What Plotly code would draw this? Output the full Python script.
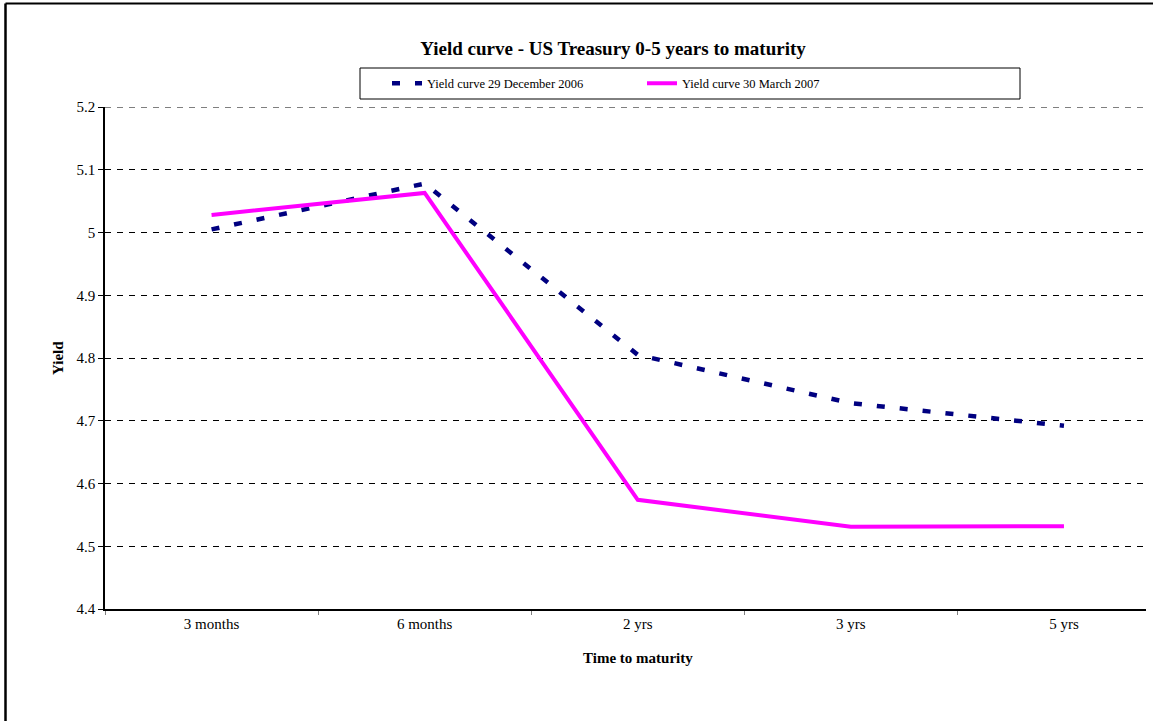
import plotly.graph_objects as go

maturities = ["3 months", "6 months", "2 yrs", "3 yrs", "5 yrs"]
yield_dec_2006 = [5.005, 5.078, 4.805, 4.728, 4.692]
yield_mar_2007 = [5.028, 5.063, 4.574, 4.531, 4.532]
y_tick_vals = [4.4, 4.5, 4.6, 4.7, 4.8, 4.9, 5.0, 5.1, 5.2]
y_tick_text = ["4.4", "4.5", "4.6", "4.7", "4.8", "4.9", "5", "5.1", "5.2"]

FONT = "Liberation Serif"
W, H = 1153, 721
L, R, T, B = 105, 7, 107, 112
PW = W - L - R
PH = H - T - B

def px_x(p):
    return (p - L) / PW

def px_y(p):
    return (H - B - p) / PH

fig = go.Figure()
fig.add_trace(go.Scatter(
    x=maturities, y=yield_dec_2006, mode="lines",
    name="Yield curve 29 December 2006",
    line=dict(color="#000080", width=4.5, dash="8px,15px"),
))
fig.add_trace(go.Scatter(
    x=maturities, y=yield_mar_2007, mode="lines",
    name="Yield curve 30 March 2007",
    line=dict(color="#FF00FF", width=4),
))

fig.update_layout(
    width=W, height=H,
    margin=dict(l=L, r=R, t=T, b=B, pad=0),
    paper_bgcolor="white", plot_bgcolor="white",
    font=dict(family=FONT, size=13, color="black"),
    title=dict(text="<b>Yield curve - US Treasury 0-5 years to maturity</b>",
               xref="container", yref="container",
               x=613 / W, y=1 - 48 / H, xanchor="center", yanchor="middle",
               font=dict(family=FONT, size=19, color="black")),
    showlegend=True,
    legend=dict(orientation="h", x=px_x(387), y=px_y(83.5),
                xanchor="left", yanchor="middle",
                bgcolor="rgba(0,0,0,0)", borderwidth=0,
                entrywidth=210, entrywidthmode="pixels",
                font=dict(family=FONT, size=12.5, color="black")),
    xaxis=dict(type="category", range=[-0.5, 4.385],
               showline=True, linecolor="black", linewidth=1.5,
               showgrid=False, zeroline=False,
               ticks="outside", tickson="boundaries", ticklen=4,
               tickcolor="#808080", tickwidth=1,
               tickfont=dict(family=FONT, size=15, color="black")),
    yaxis=dict(range=[4.4, 5.2], tickvals=y_tick_vals, ticktext=y_tick_text,
               showline=True, linecolor="black", linewidth=1.5,
               showgrid=True, gridcolor="black", gridwidth=1, griddash="6px,6px",
               zeroline=False, ticks="outside", ticklen=5,
               tickcolor="black", tickwidth=1,
               tickfont=dict(family=FONT, size=15, color="black")),
    shapes=[
        # outer chart border (left and top visible)
        dict(type="line", xref="paper", yref="paper",
             x0=px_x(5.5), x1=px_x(5.5), y0=px_y(H + 5), y1=px_y(3.5),
             line=dict(color="black", width=2.5)),
        dict(type="line", xref="paper", yref="paper",
             x0=px_x(5.5), x1=px_x(W + 5), y0=px_y(3.5), y1=px_y(3.5),
             line=dict(color="black", width=2)),
        # legend box
        dict(type="rect", xref="paper", yref="paper",
             x0=px_x(360), x1=px_x(1020), y0=px_y(99), y1=px_y(68),
             line=dict(color="black", width=1), fillcolor="rgba(0,0,0,0)"),
        # top gridline at the axis maximum
        dict(type="line", xref="paper", yref="y",
             x0=0, x1=1, y0=y_tick_vals[-1], y1=y_tick_vals[-1],
             line=dict(color="#555555", width=1.5, dash="6px,6px")),
    ],
    annotations=[
        dict(text="<b>Time to maturity</b>", xref="x", yref="paper",
             x=2, y=px_y(658), xanchor="center", yanchor="middle",
             showarrow=False, font=dict(family=FONT, size=15, color="black")),
        dict(text="<b>Yield</b>", xref="paper", yref="paper",
             x=px_x(58), y=0.5, xanchor="center", yanchor="middle",
             textangle=-90, showarrow=False,
             font=dict(family=FONT, size=15, color="black")),
    ],
)

fig.write_html(
    "out.html",
    config={"displayModeBar": False},
    post_script="document.body.style.margin='0';document.body.style.overflow='hidden';",
)
